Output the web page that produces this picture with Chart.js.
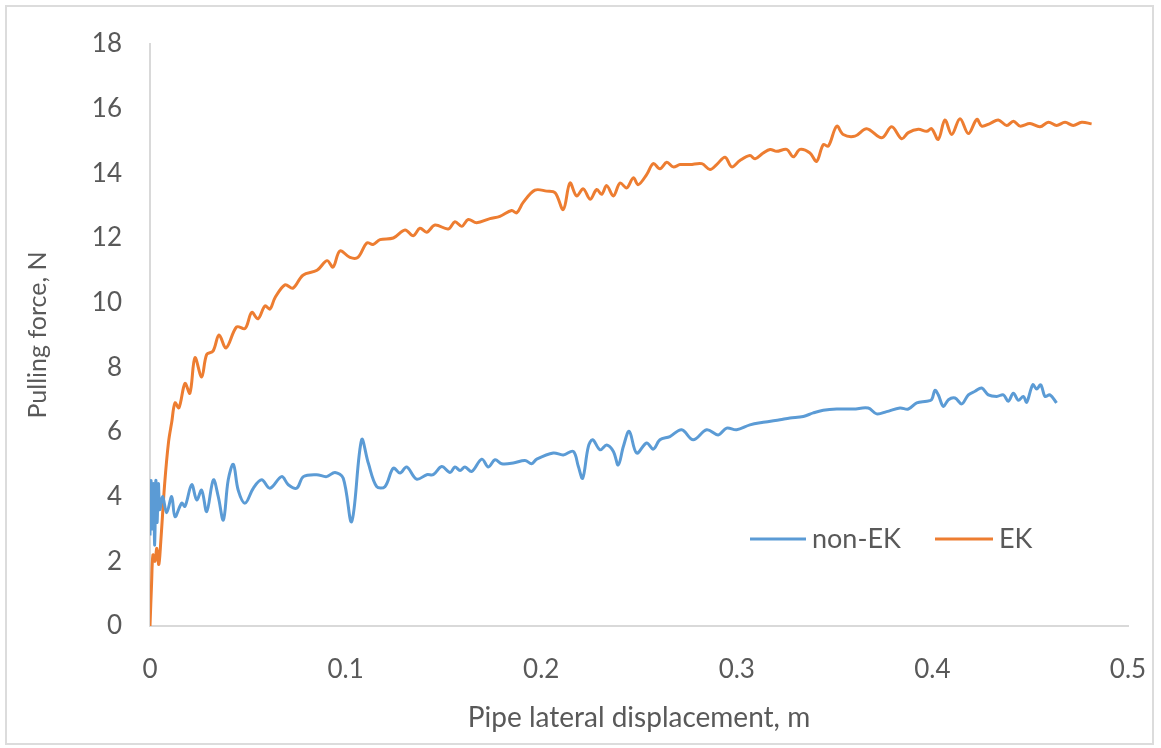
<!DOCTYPE html>
<html>
<head>
<meta charset="utf-8">
<script src="https://cdn.jsdelivr.net/npm/chart.js@4.4.0/dist/chart.umd.min.js"></script>
<style>
    body { margin: 0; background: #fff; }
    .wrap { position: relative; width: 1161px; height: 748px; }
    .frame { position: absolute; left: 5px; top: 5px; width: 1149px; height: 740px; border: 2px solid #dcdcdc; box-sizing: border-box; }
    canvas { position: absolute; left: 0; top: 0; }
</style>
</head>
<body>
<div class="wrap">
    <div class="frame"></div>
    <canvas id="myChart" width="1161" height="748"></canvas>
</div>
<script>
    // axis ticks
    var xTicks = [0, 0.1, 0.2, 0.3, 0.4, 0.5];
    var yTicks = [0, 2, 4, 6, 8, 10, 12, 14, 16, 18];

    // non-EK series (blue)
    var nonEkX = [0, 0.0005, 0.0012, 0.0018, 0.0024, 0.003, 0.0036, 0.0043, 0.005, 0.0065,
        0.0085, 0.0111, 0.0128, 0.0162, 0.0179, 0.0213, 0.0239, 0.0264, 0.029, 0.0324,
        0.0349, 0.0375, 0.04, 0.0426, 0.0451, 0.0486, 0.0528, 0.0571, 0.0613, 0.0673,
        0.0707, 0.075, 0.0784, 0.0852, 0.0903, 0.0946, 0.0988, 0.1031, 0.1082, 0.1116,
        0.1159, 0.1201, 0.1244, 0.1278, 0.1312, 0.1363, 0.1415, 0.1448, 0.1491, 0.1534,
        0.1559, 0.1585, 0.161, 0.1645, 0.1696, 0.173, 0.1764, 0.1798, 0.1857, 0.1917,
        0.1951, 0.1977, 0.2062, 0.2113, 0.2164, 0.219, 0.2212, 0.2241, 0.2263, 0.2301,
        0.2335, 0.2369, 0.2394, 0.242, 0.245, 0.2488, 0.2539, 0.2573, 0.2607, 0.2658,
        0.2718, 0.2777, 0.2846, 0.2905, 0.2948, 0.2999, 0.3067, 0.3135, 0.3221, 0.3272,
        0.334, 0.3391, 0.3442, 0.3511, 0.3596, 0.3672, 0.3715, 0.3766, 0.3834, 0.3877,
        0.392, 0.3971, 0.3996, 0.4013, 0.403, 0.4056, 0.4082, 0.4116, 0.415, 0.4184,
        0.4218, 0.4252, 0.4286, 0.4329, 0.4363, 0.4388, 0.4414, 0.4439, 0.4465, 0.4482,
        0.4513, 0.4533, 0.4554, 0.4576, 0.4601, 0.4635];
    var nonEkY = [2.8, 4.5, 3.0, 4.4, 2.5, 4.5, 3.2, 4.4, 3.6, 4.0,
        3.5, 4.0, 3.38, 3.8, 3.7, 4.37, 3.9, 4.2, 3.54, 4.52,
        4.0, 3.28, 4.52, 5.0, 4.2, 3.8, 4.26, 4.52, 4.26, 4.62,
        4.37, 4.26, 4.62, 4.68, 4.62, 4.75, 4.57, 3.23, 5.76, 5.04,
        4.31, 4.31, 4.88, 4.73, 4.92, 4.54, 4.68, 4.68, 4.93, 4.75,
        4.92, 4.81, 4.92, 4.78, 5.16, 4.92, 5.14, 5.02, 5.04, 5.12,
        5.02, 5.16, 5.35, 5.29, 5.4, 4.93, 4.57, 5.55, 5.76, 5.45,
        5.6, 5.4, 4.98, 5.55, 6.02, 5.35, 5.66, 5.47, 5.76, 5.86,
        6.07, 5.76, 6.07, 5.91, 6.12, 6.07, 6.22, 6.3, 6.38, 6.43,
        6.48, 6.59, 6.67, 6.71, 6.71, 6.74, 6.56, 6.63, 6.74, 6.71,
        6.9, 6.95, 7.0, 7.29, 7.15, 6.79, 7.0, 7.05, 6.87, 7.15,
        7.26, 7.36, 7.15, 7.1, 7.15, 6.95, 7.2, 6.98, 7.1, 6.92,
        7.46, 7.33, 7.46, 7.1, 7.15, 6.9];

    // EK series (orange)
    var ekX = [0, 0.0008, 0.0015, 0.0025, 0.0035, 0.0045, 0.0055, 0.0075, 0.0095, 0.0111,
        0.0128, 0.0148, 0.0179, 0.0204, 0.023, 0.0264, 0.029, 0.0322, 0.0353, 0.0389,
        0.0443, 0.0486, 0.052, 0.0552, 0.0588, 0.0613, 0.0639, 0.069, 0.0731, 0.0782,
        0.0854, 0.0905, 0.0936, 0.0971, 0.1022, 0.1063, 0.1109, 0.114, 0.1176, 0.1244,
        0.1304, 0.1346, 0.138, 0.1415, 0.1457, 0.1525, 0.1559, 0.1594, 0.1627, 0.167,
        0.1738, 0.1789, 0.1849, 0.1875, 0.1908, 0.1968, 0.2028, 0.2071, 0.2113, 0.2147,
        0.2181, 0.2215, 0.225, 0.2284, 0.2309, 0.2335, 0.2369, 0.2403, 0.2437, 0.2471,
        0.2496, 0.2539, 0.2573, 0.2607, 0.2642, 0.2675, 0.271, 0.2761, 0.2821, 0.2863,
        0.2897, 0.294, 0.2974, 0.3016, 0.3067, 0.3093, 0.3135, 0.317, 0.3204, 0.3255,
        0.3289, 0.3323, 0.3374, 0.3408, 0.3442, 0.3468, 0.3511, 0.3544, 0.3604, 0.3664,
        0.3741, 0.3792, 0.3843, 0.3877, 0.3928, 0.3971, 0.3996, 0.403, 0.4064, 0.4099,
        0.4141, 0.4184, 0.4227, 0.4252, 0.4294, 0.4337, 0.438, 0.4414, 0.4448, 0.4499,
        0.455, 0.4593, 0.4635, 0.4678, 0.472, 0.4763, 0.4814];
    var ekY = [0, 1.3, 2.2, 2.0, 2.4, 1.9, 2.6, 4.4, 5.7, 6.3,
        6.9, 6.75, 7.5, 7.2, 8.3, 7.7, 8.4, 8.5, 9.0, 8.6,
        9.25, 9.2, 9.7, 9.5, 9.9, 9.8, 10.15, 10.55, 10.45, 10.85,
        11.0, 11.3, 11.1, 11.6, 11.4, 11.4, 11.85, 11.8, 11.95, 12.0,
        12.25, 12.07, 12.3, 12.18, 12.4, 12.28, 12.5, 12.36, 12.57, 12.47,
        12.6, 12.67, 12.85, 12.78, 13.1, 13.48, 13.45, 13.4, 12.88, 13.7,
        13.3, 13.52, 13.2, 13.5, 13.35, 13.62, 13.3, 13.7, 13.55, 13.86,
        13.65, 13.96, 14.3, 14.14, 14.34, 14.2, 14.27, 14.27, 14.3, 14.12,
        14.27, 14.5, 14.2, 14.4, 14.55, 14.45, 14.63, 14.74, 14.68, 14.74,
        14.51, 14.74, 14.63, 14.37, 14.89, 14.84, 15.46, 15.2, 15.15, 15.38,
        15.1, 15.44, 15.07, 15.26, 15.36, 15.3, 15.38, 15.05, 15.65, 15.2,
        15.69, 15.23, 15.67, 15.46, 15.54, 15.65, 15.48, 15.61, 15.46, 15.54,
        15.44, 15.58, 15.48, 15.58, 15.48, 15.58, 15.53];

    function toPoints(xs, ys) {
        return xs.map(function (x, i) {
            return { x: x, y: ys[i] };
        });
    }

    var textColor = '#595959';
    var fontFamily = 'Lato, "Open Sans", sans-serif';

    // legend drawn inside the plot area, bottom right
    var innerLegend = {
        id: 'innerLegend',
        afterDraw: function (chart) {
            var ctx = chart.ctx;
            var items = [{ x: 750, w: 56 }, { x: 935, w: 58 }];
            var y = 539;
            ctx.save();
            ctx.font = '27px ' + fontFamily;
            ctx.textBaseline = 'middle';
            ctx.textAlign = 'left';
            chart.data.datasets.forEach(function (ds, i) {
                var it = items[i];
                ctx.strokeStyle = ds.borderColor;
                ctx.lineWidth = 3;
                ctx.beginPath();
                ctx.moveTo(it.x, y);
                ctx.lineTo(it.x + it.w, y);
                ctx.stroke();
                ctx.fillStyle = textColor;
                ctx.fillText(ds.label, it.x + it.w + 6, y);
            });
            ctx.restore();
        }
    };

    var ctx = document.getElementById('myChart');
    if (ctx) {
        var chart = new Chart(ctx, {
            type: 'line',
            data: {
                datasets: [{
                    label: 'non-EK',
                    data: toPoints(nonEkX, nonEkY),
                    borderColor: '#5B9BD5',
                    borderWidth: 3,
                    pointRadius: 0,
                    tension: 0.35,
                    fill: false
                }, {
                    label: 'EK',
                    data: toPoints(ekX, ekY),
                    borderColor: '#ED7D31',
                    borderWidth: 3,
                    pointRadius: 0,
                    tension: 0.35,
                    fill: false
                }]
            },
            options: {
                responsive: false,
                animation: false,
                events: [],
                layout: {
                    padding: { left: 0, right: 33, top: 44, bottom: 0 }
                },
                plugins: {
                    legend: { display: false },
                    tooltip: { enabled: false }
                },
                scales: {
                    x: {
                        type: 'linear',
                        min: 0,
                        max: 0.5,
                        afterBuildTicks: function (scale) {
                            scale.ticks = xTicks.map(function (v) { return { value: v }; });
                        },
                        afterFit: function (scale) {
                            scale.height = 122;
                            scale.paddingLeft = 0;
                            scale.paddingRight = 0;
                        },
                        grid: { display: false, drawTicks: false },
                        border: { display: true, color: '#d9d9d9', width: 2 },
                        ticks: {
                            color: textColor,
                            padding: 28,
                            maxRotation: 0,
                            font: { family: fontFamily, size: 26 },
                            callback: function (v) { return String(Math.round(v * 10) / 10); }
                        },
                        title: {
                            display: true,
                            text: 'Pipe lateral displacement, m',
                            color: textColor,
                            font: { family: fontFamily, size: 28 },
                            padding: { top: 0, bottom: 13 }
                        }
                    },
                    y: {
                        min: 0,
                        max: 18,
                        afterBuildTicks: function (scale) {
                            scale.ticks = yTicks.map(function (v) { return { value: v }; });
                        },
                        afterFit: function (scale) {
                            scale.width = 150;
                            scale.paddingTop = 0;
                            scale.paddingBottom = 0;
                        },
                        grid: { display: false, drawTicks: false },
                        border: { display: true, color: '#d9d9d9', width: 2 },
                        ticks: {
                            color: textColor,
                            padding: 28,
                            font: { family: fontFamily, size: 26 }
                        },
                        title: {
                            display: true,
                            text: 'Pulling force, N',
                            color: textColor,
                            font: { family: fontFamily, size: 25 },
                            padding: { top: 23, bottom: 0 }
                        }
                    }
                }
            },
            plugins: [innerLegend]
        });
    }
</script>
</body>
</html>
